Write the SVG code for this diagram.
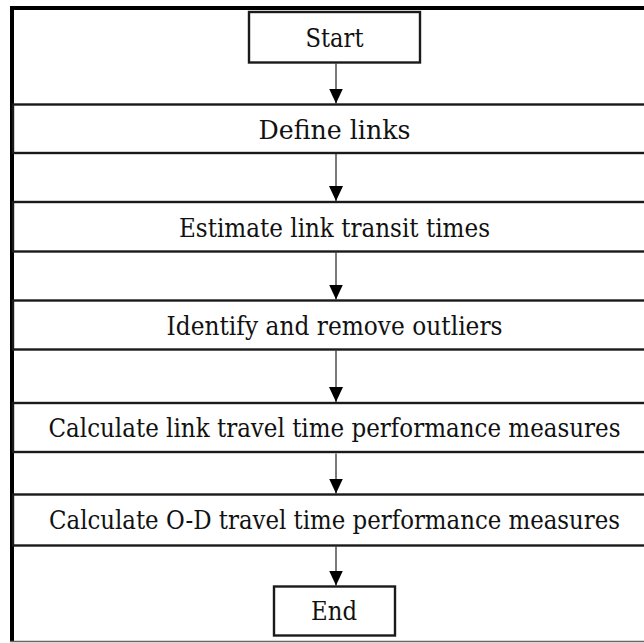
<svg xmlns="http://www.w3.org/2000/svg" width="644" height="643" viewBox="0 0 644 643">
  <style>
    .box { fill: #ffffff; stroke: #1a1a1a; stroke-width: 2.4; }
    .lbl { font-size: 26px; fill: #111111; text-anchor: middle; }
    .conn { stroke: #222222; stroke-width: 1.2; fill: none; marker-end: url(#arrow); }
  </style>
  <defs>
    <marker id="arrow" viewBox="0 0 15 14" refX="15" refY="7" markerWidth="15" markerHeight="14" markerUnits="userSpaceOnUse" orient="auto">
      <path d="M0,0 L15,7 L0,14 z" fill="#000000"/>
    </marker>
  </defs>
  <rect x="0" y="0" width="644" height="643" fill="#ffffff"/>
  <g id="frame">
    <rect x="10" y="6" width="634" height="4" fill="#000000"/>
    <rect x="10" y="6" width="4" height="636" fill="#000000"/>
    <line x1="10" y1="641.5" x2="644" y2="641.5" stroke="#666666" stroke-width="1.5"/>
  </g>
  <g font-family="DejaVu Serif, Liberation Serif, serif">
  <g id="start">
    <rect class="box" x="249" y="12" width="171" height="50.5"/>
    <text class="lbl" x="334.5" y="46.5" textLength="58" lengthAdjust="spacingAndGlyphs">Start</text>
  </g>
  <g id="define-links">
    <rect class="box" x="13" y="104.5" width="634" height="48.5"/>
    <text class="lbl" x="334.5" y="138.5" textLength="152" lengthAdjust="spacingAndGlyphs">Define links</text>
  </g>
  <g id="estimate">
    <rect class="box" x="13" y="202" width="634" height="49.5"/>
    <text class="lbl" x="334.5" y="236.5" textLength="311" lengthAdjust="spacingAndGlyphs">Estimate link transit times</text>
  </g>
  <g id="identify">
    <rect class="box" x="13" y="300.5" width="634" height="49"/>
    <text class="lbl" x="334.5" y="334.5" textLength="336" lengthAdjust="spacingAndGlyphs">Identify and remove outliers</text>
  </g>
  <g id="calc-link">
    <rect class="box" x="13" y="403" width="634" height="49"/>
    <text class="lbl" x="334.5" y="437" textLength="572" lengthAdjust="spacingAndGlyphs">Calculate link travel time performance measures</text>
  </g>
  <g id="calc-od">
    <rect class="box" x="13" y="494.5" width="634" height="51"/>
    <text class="lbl" x="334.5" y="529" textLength="571" lengthAdjust="spacingAndGlyphs">Calculate O-D travel time performance measures</text>
  </g>
  <g id="end">
    <rect class="box" x="274" y="586.5" width="121" height="49"/>
    <text class="lbl" x="334" y="620" textLength="46" lengthAdjust="spacingAndGlyphs">End</text>
  </g>
  </g>
  <g id="connectors">
    <line class="conn" x1="336" y1="63.5" x2="336" y2="103.5"/>
    <line class="conn" x1="336" y1="154" x2="336" y2="201"/>
    <line class="conn" x1="336" y1="252.5" x2="336" y2="299.5"/>
    <line class="conn" x1="336" y1="350.5" x2="336" y2="402"/>
    <line class="conn" x1="336" y1="453.5" x2="336" y2="493.5"/>
    <line class="conn" x1="336" y1="546.5" x2="336" y2="585.5"/>
  </g>
</svg>
